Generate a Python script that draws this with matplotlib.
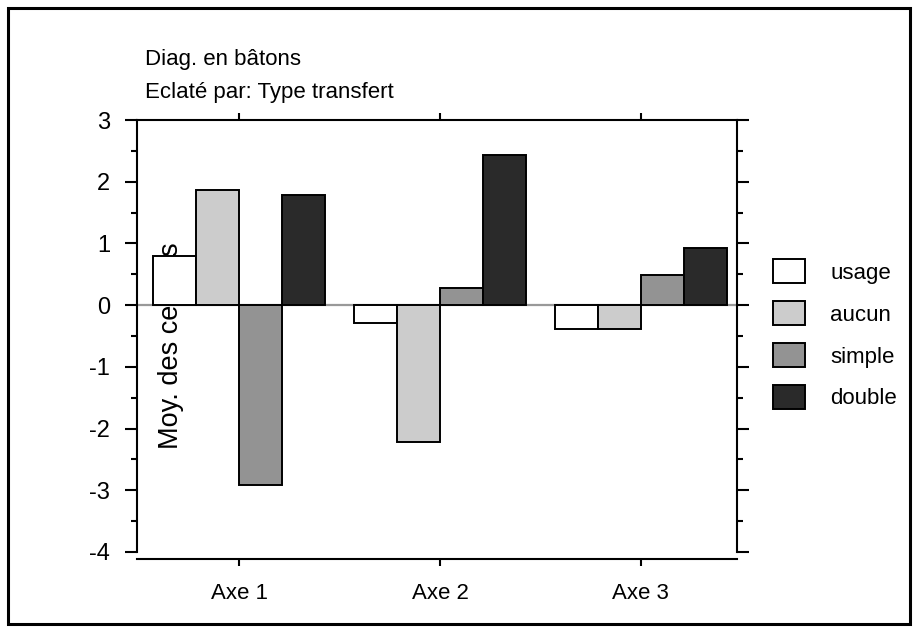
import matplotlib
matplotlib.use("Agg")
import matplotlib.pyplot as plt
from matplotlib.patches import Rectangle
from matplotlib.ticker import MultipleLocator
import numpy as np

# moyennes par axe, éclatées par type de transfert
axes_labels = ["Axe 1", "Axe 2", "Axe 3"]
types = ["usage", "aucun", "simple", "double"]
usage = [0.79, -0.29, -0.38]
aucun = [1.87, -2.22, -0.38]
simple = [-2.91, 0.28, 0.49]
double = [1.79, 2.44, 0.93]
colors = ["white", "#cccccc", "#939393", "#2a2a2a"]
yticks = [3, 2, 1, 0, -1, -2, -3, -4]
ytick_labels = ["3", "2", "1", "0", "-1", "-2", "-3", "-4"]

plt.rcParams["font.family"] = ["Liberation Sans", "DejaVu Sans"]

fig = plt.figure(figsize=(9.18, 6.32), dpi=100)
ax = fig.add_axes([137 / 918, 80 / 632, 600 / 918, 432 / 632])

x = np.arange(len(axes_labels))
w = 0.214
series = [usage, aucun, simple, double]
bars = []
for i, (vals, col) in enumerate(zip(series, colors)):
    b = ax.bar(x + (i - 1.5) * w, vals, w, color=col, edgecolor="black",
               linewidth=1.4, zorder=3)
    bars.append(b)

ax.axhline(0, color="#999999", lw=1.6, zorder=1)

ax.set_xlim(-0.51, 2.48)
ax.set_ylim(-4, 3)
ax.set_xticks(x)
ax.set_xticklabels(axes_labels)
ax.set_yticks(yticks)
ax.set_yticklabels(ytick_labels)
ax.yaxis.set_minor_locator(MultipleLocator(0.5))

for s in ax.spines.values():
    s.set_linewidth(1.5)
ax.spines["bottom"].set_position(("outward", 5))

ax.tick_params(axis="x", which="both", top=True, bottom=True, direction="out",
               length=5, width=1.5, pad=12, labelsize=16)
ax.tick_params(axis="y", which="major", left=True, right=True, direction="out",
               length=8.5, width=1.5, pad=11, labelsize=17)
ax.tick_params(axis="y", which="minor", left=True, right=True, direction="out",
               length=4.5, width=1.5)

# titre d'axe posé dans le cadre, derrière les barres
ax.text(0.057, 0.7176, "Moy. des cellules", rotation=90, ha="center", va="top",
        fontsize=19.5, transform=ax.transAxes, zorder=2)

ax.legend(bars, types, loc="upper left", bbox_to_anchor=(773 / 918, 1 - 259 / 632),
          bbox_transform=fig.transFigure, frameon=False, fontsize=16,
          handlelength=1.44, handleheight=1.31, handletextpad=1.13,
          labelspacing=0.78, borderpad=0, borderaxespad=0)

fig.text(145 / 918, 1 - 65 / 632, "Diag. en bâtons", va="baseline", fontsize=16)
fig.text(145 / 918, 1 - 98 / 632, "Eclaté par: Type transfert", va="baseline",
         fontsize=16)

fig.patches.append(Rectangle((8 / 918, 8 / 632), 902 / 918, 616 / 632, fill=False,
                             lw=2.2, edgecolor="black", transform=fig.transFigure))

fig.savefig("out.png", dpi=100)
